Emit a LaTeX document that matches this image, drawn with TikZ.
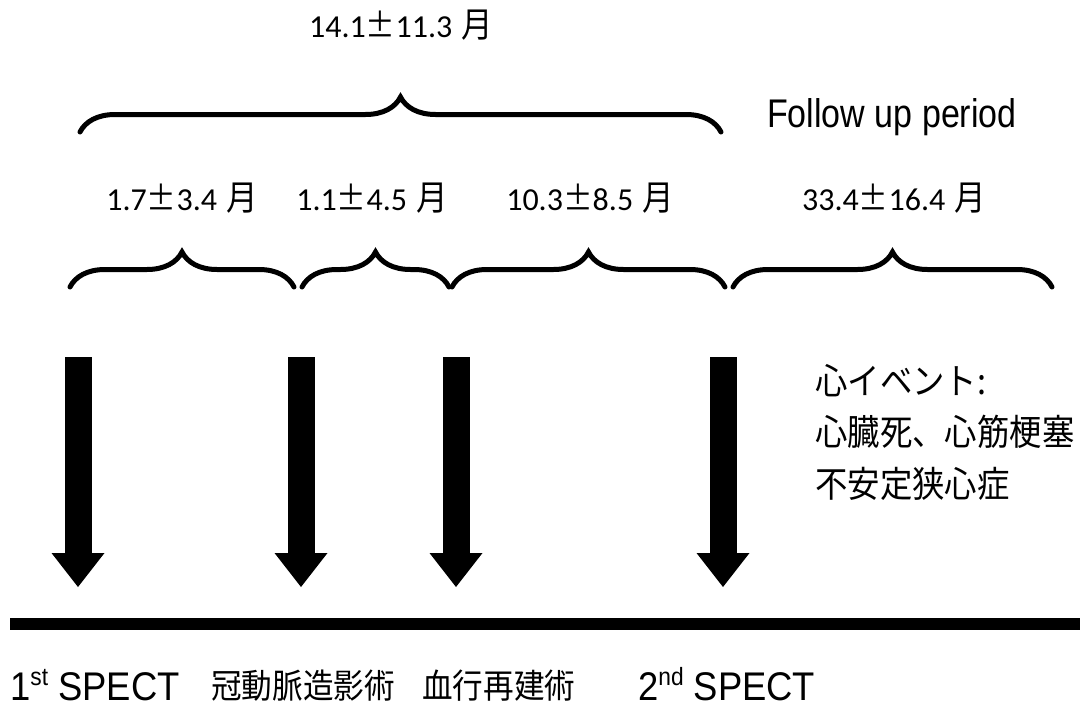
\documentclass[tikz,border=0pt]{standalone}
\usepackage{fontspec}
\setmainfont{Liberation Sans}
\newfontfamily\cjk[FakeStretch=0.9]{Noto Sans CJK JP}
\newfontfamily\numf{Carlito}
\newfontfamily\latn[FakeStretch=0.91]{Liberation Sans}
\newfontfamily\follow[FakeStretch=0.85]{Liberation Sans}
\usetikzlibrary{decorations.pathreplacing,arrows.meta}
\newcommand{\mon}{\hspace{9pt}{\cjk\fontsize{35}{35}\selectfont 月}}
\newcommand{\pmx}{{\cjk\fontsize{33}{33}\selectfont ±}}
\newcommand{\nodepth}[1]{\raisebox{0pt}[\height][0pt]{#1}}
\begin{document}
\begin{tikzpicture}[x=1pt,y=-1pt,
  curly/.style={decorate,decoration={brace,amplitude=35pt},line width=5pt,line cap=round},
  numlab/.style={inner sep=0pt,anchor=base,font=\numf\fontsize{32}{32}\selectfont},
  bigarrow/.style={line width=27pt,-{Triangle[width=53pt,length=34pt,line width=0pt]}},
  latlab/.style={inner sep=0pt,anchor=base west,font=\latn\fontsize{40}{40}\selectfont},
  cjklab/.style={inner sep=0pt,anchor=base west,font=\cjk\fontsize{34}{34}\selectfont},
  evlab/.style={inner sep=0pt,anchor=base west,font=\cjk\fontsize{36}{36}\selectfont}]
\useasboundingbox (0,0) rectangle (1087,709);

% braces
\coordinate (b0l) at (80,132);  \coordinate (b0r) at (721,132);
\coordinate (b1l) at (70,287);  \coordinate (b1r) at (294,287);
\coordinate (b2l) at (302,287); \coordinate (b2r) at (449,287);
\coordinate (b3l) at (452,287); \coordinate (b3r) at (725,287);
\coordinate (b4l) at (733,287); \coordinate (b4r) at (1052,287);
\draw[curly] (b0l) -- (b0r);
\draw[curly] (b1l) -- (b1r);
\draw[curly] (b2l) -- (b2r);
\draw[curly] (b3l) -- (b3r);
\draw[curly] (b4l) -- (b4r);

% brace labels
\node[numlab] (l0) at (401,38) {14.1\pmx11.3\mon};
\node[numlab] (l1) at (182,210) {1.7\pmx3.4\mon};
\node[numlab] (l2) at (372,210) {1.1\pmx4.5\mon};
\node[numlab] (l3) at (590,210) {10.3\pmx8.5\mon};
\node[numlab] (l4) at (894,210) {33.4\pmx16.4\mon};

\node[inner sep=0pt,anchor=base west,font=\follow\fontsize{40}{40}\selectfont] (fup) at (767,127) {Follow up period};

% arrows
\coordinate (a1t) at (78,357);  \coordinate (a1b) at (78,587);
\coordinate (a2t) at (301,357); \coordinate (a2b) at (301,587);
\coordinate (a3t) at (456,357); \coordinate (a3b) at (456,587);
\coordinate (a4t) at (723,357); \coordinate (a4b) at (723,587);
\draw[bigarrow] (a1t) -- (a1b);
\draw[bigarrow] (a2t) -- (a2b);
\draw[bigarrow] (a3t) -- (a3b);
\draw[bigarrow] (a4t) -- (a4b);

% timeline
\coordinate (tl) at (10,624); \coordinate (tr) at (1080,624);
\draw[line width=12pt] (tl) -- (tr);

% event text
\node[evlab] (e1) at (815,394.5) {心イベント:};
\node[evlab] (e2) at (815,445.5) {心臓死、心筋梗塞};
\node[evlab] (e3) at (815,497.5) {不安定狭心症};

% bottom labels
\node[latlab] (s1) at (10,700) {\nodepth{1\raisebox{15pt}{\fontsize{25}{25}\selectfont st} SPECT}};
\node[cjklab] (c1) at (211,698) {\nodepth{冠動脈造影術}};
\node[cjklab] (c2) at (422,698) {\nodepth{血行再建術}};
\node[latlab] (s2) at (638,700) {\nodepth{2\raisebox{15pt}{\fontsize{25}{25}\selectfont nd} SPECT}};
\end{tikzpicture}
\end{document}
